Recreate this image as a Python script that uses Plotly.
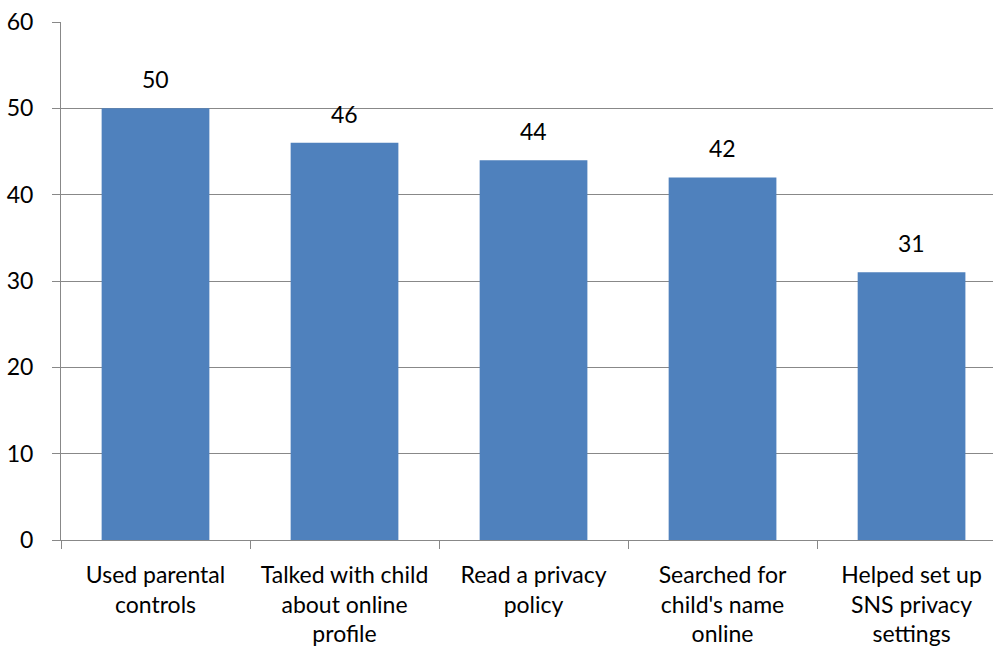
import plotly.graph_objects as go

categories = [
    "Used parental<br>controls",
    "Talked with child<br>about online<br>profile",
    "Read a privacy<br>policy",
    "Searched for<br>child's name<br>online",
    "Helped set up<br>SNS privacy<br>settings",
]
values = [50, 46, 44, 42, 31]
y_ticks = [0, 10, 20, 30, 40, 50, 60]

FONT = "Lato"
SIZE = 23
GRID = "#888888"
BAR = "#4F81BD"

positions = list(range(len(categories)))

fig = go.Figure(
    go.Bar(
        x=positions,
        y=values,
        width=0.57,
        marker=dict(color=BAR, line=dict(width=0)),
        hoverinfo="skip",
    )
)

for xi, v in zip(positions, values):
    fig.add_annotation(
        x=xi, y=v, text=str(v), showarrow=False,
        yanchor="bottom", yshift=13,
        font=dict(family=FONT, size=SIZE, color="#000000"),
    )

fig.update_layout(
    width=993, height=652,
    margin=dict(l=61, r=0, t=22, b=112),
    paper_bgcolor="white", plot_bgcolor="white",
    showlegend=False,
    font=dict(family=FONT, size=SIZE, color="#000000"),
    xaxis=dict(
        range=[-0.5, 4.431],
        tickvals=positions, ticktext=categories,
        ticks="", showgrid=False, zeroline=False,
        showline=True, linecolor=GRID, linewidth=1,
        tickfont=dict(family=FONT, size=SIZE),
        ticklabelstandoff=14,
        minor=dict(
            tickvals=[p - 0.5 for p in positions],
            ticks="outside", ticklen=8, tickcolor=GRID, tickwidth=1,
            showgrid=False,
        ),
    ),
    yaxis=dict(
        range=[0, 60], tickvals=y_ticks,
        ticks="outside", ticklen=8, tickcolor=GRID, tickwidth=1,
        showgrid=True, gridcolor=GRID, gridwidth=1,
        zeroline=False,
        showline=True, linecolor=GRID, linewidth=1,
        tickfont=dict(family=FONT, size=SIZE),
        ticklabelstandoff=14,
    ),
)

fig.write_html("out.html")
